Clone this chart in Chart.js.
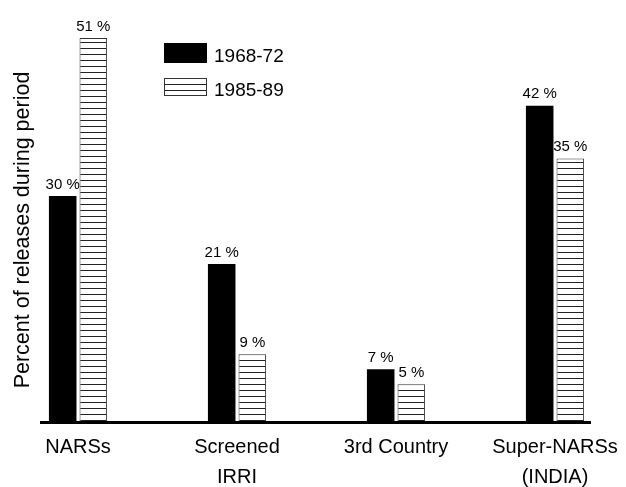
<!DOCTYPE html>
<html>
<head>
<meta charset="utf-8">
<script src="https://cdn.jsdelivr.net/npm/chart.js@4.4.1/dist/chart.umd.min.js"></script>
<style>
  html, body { margin: 0; padding: 0; background: #fff; }
  #wrap { width: 626px; height: 487px; }
</style>
</head>
<body>
<div id="wrap"><canvas id="grafico"></canvas></div>
<script>
// Dados do gráfico
const categorias = [['NARSs'], ['Screened', 'IRRI'], ['3rd Country'], ['Super-NARSs', '(INDIA)']];
const periodos = ['1968-72', '1985-89'];
const valores6872 = [30, 21, 7, 42];
const valores8589 = [51, 9, 5, 35];
const tituloY = 'Percent of releases during period';

const fonte = "'Liberation Sans', Arial, sans-serif";

// Padrão de listras horizontais
function criarListras() {
    const c = document.createElement('canvas');
    c.width = 8;
    c.height = 6;
    const g = c.getContext('2d');
    g.fillStyle = '#fff';
    g.fillRect(0, 0, 8, 6);
    g.fillStyle = '#222';
    g.fillRect(0, 0, 8, 1);
    return g.createPattern(c, 'repeat');
}
const listras = criarListras();

// Rótulos em cima das barras, linha base e legenda
const extras = {
    id: 'extras',
    afterDatasetsDraw(chart) {
        const ctx = chart.ctx;
        const area = chart.chartArea;
        ctx.save();
        ctx.font = '15px ' + fonte;
        ctx.fillStyle = '#000';
        ctx.textAlign = 'center';
        ctx.textBaseline = 'bottom';
        chart.data.datasets.forEach((ds, i) => {
            chart.getDatasetMeta(i).data.forEach((bar, j) => {
                ctx.fillText(ds.data[j] + ' %', bar.x, bar.y - 4);
            });
        });

        // linha base
        ctx.fillStyle = '#000';
        ctx.fillRect(area.left - 38, area.bottom - 1, area.right - area.left + 74, 3);

        // legenda
        ctx.font = '19px ' + fonte;
        ctx.textAlign = 'left';
        ctx.textBaseline = 'middle';
        const caixas = [{ y: 43, h: 20 }, { y: 78, h: 18 }];
        chart.data.datasets.forEach((ds, i) => {
            const x = 164, y = caixas[i].y, h = caixas[i].h;
            ctx.fillStyle = ds.backgroundColor;
            ctx.fillRect(x, y, 43, h);
            if (i === 1) {
                ctx.strokeStyle = '#333';
                ctx.lineWidth = 1;
                ctx.strokeRect(x + 0.5, y + 0.5, 42, h - 1);
            }
            ctx.fillStyle = '#000';
            ctx.fillText(ds.label, x + 50, y + h / 2 + 4);
        });
        ctx.restore();
    }
};

new Chart(document.getElementById('grafico'), {
    type: 'bar',
    data: {
        labels: categorias,
        datasets: [
            {
                label: periodos[0],
                data: valores6872,
                backgroundColor: '#000',
                borderWidth: 0,
                barPercentage: 0.9,
                categoryPercentage: 0.385,
                clip: false
            },
            {
                label: periodos[1],
                data: valores8589,
                backgroundColor: listras,
                borderColor: '#333',
                borderWidth: 1,
                borderSkipped: false,
                barPercentage: 0.9,
                categoryPercentage: 0.385,
                clip: false
            }
        ]
    },
    options: {
        responsive: true,
        maintainAspectRatio: false,
        animation: false,
        layout: { padding: { top: 38, right: 71, bottom: 0, left: 0 } },
        plugins: {
            legend: { display: false },
            tooltip: { enabled: false }
        },
        scales: {
            x: {
                offset: false,
                grid: { display: false },
                border: { display: false },
                ticks: {
                    color: '#000',
                    font: { family: fonte, size: 20, lineHeight: 1.5 },
                    padding: 2,
                    maxRotation: 0,
                    autoSkip: false
                },
                afterFit: s => { s.height = 65; }
            },
            y: {
                min: 0,
                max: 51,
                grid: { display: false },
                border: { display: false },
                ticks: { display: false },
                title: {
                    display: true,
                    text: tituloY,
                    color: '#000',
                    font: { family: fonte, size: 21.5 },
                    padding: { top: 10, bottom: 0 }
                },
                afterFit: s => { s.width = 78; }
            }
        }
    },
    plugins: [extras]
});
</script>
</body>
</html>
